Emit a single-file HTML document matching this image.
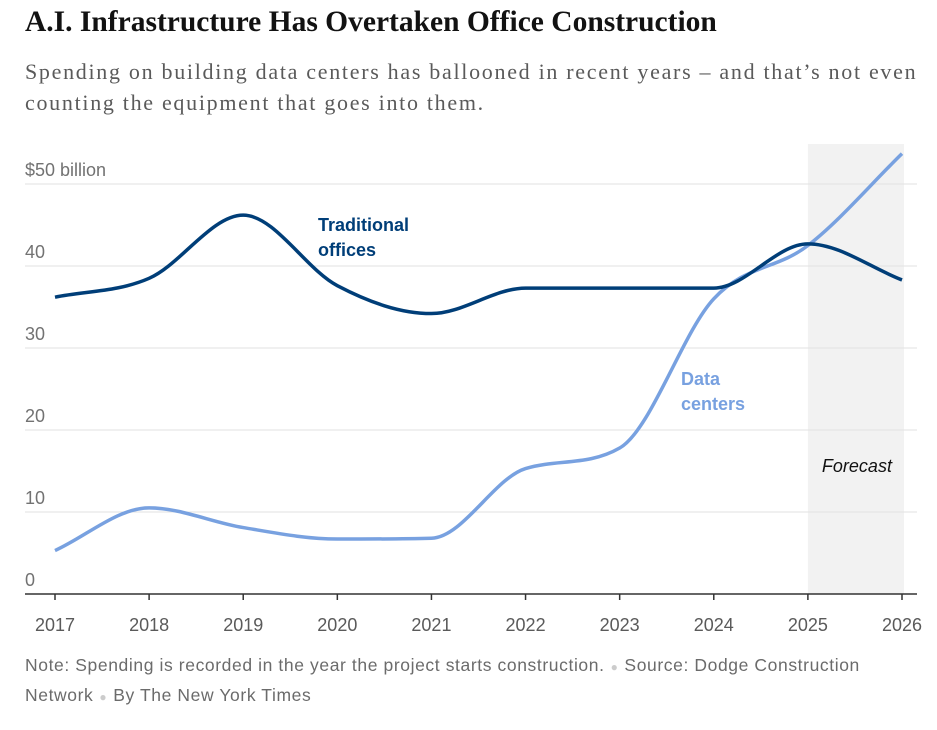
<!DOCTYPE html>
<html><head><meta charset="utf-8">
<style>
body{margin:0;background:#fff;width:937px;height:730px;overflow:hidden;font-family:"Liberation Sans",sans-serif;}
h1{position:absolute;left:25px;top:6px;margin:0;font-family:"Liberation Serif",serif;font-weight:bold;font-size:29.5px;color:#121212;}
.sub{position:absolute;left:25px;top:56px;width:912px;font-family:"Liberation Serif",serif;font-size:22px;letter-spacing:1.7px;line-height:31px;color:#5a5a5a}
.note{position:absolute;left:25px;top:651px;width:890px;font-size:17.5px;letter-spacing:0.6px;line-height:28px;color:#6b6b6b}
.dot{color:#ccc;font-size:12px;padding:0 6px}
svg{position:absolute;left:0;top:0}
</style></head><body>
<h1>A.I. Infrastructure Has Overtaken Office Construction</h1>
<div class="sub">Spending on building data centers has ballooned in recent years – and that’s not even counting the equipment that goes into them.</div>
<svg id="chart" width="937" height="730"></svg>
<div class="note">Note: Spending is recorded in the year the project starts construction.<span class="dot">●</span>Source: Dodge Construction Network<span class="dot">●</span>By The New York Times</div>
<script>
const years=[2017,2018,2019,2020,2021,2022,2023,2024,2025,2026];
const offices=[36.2,38.5,46.2,37.6,34.2,37.3,37.3,37.3,42.7,38.3];
const dataCenters=[5.3,10.5,8.1,6.7,6.8,15.3,17.8,36,42.5,53.7];
const yTicks=[0,10,20,30,40,50];
const yTickLabels=["0","10","20","30","40","$50 billion"];
const forecastStart=2025, forecastEnd=2026;

const NS="http://www.w3.org/2000/svg";
const svg=document.getElementById('chart');
const x=v=>55+(v-2017)*(902-55)/9;
const y=v=>594-v*8.2;
function mk(tag,attrs,parent){const e=document.createElementNS(NS,tag);for(const k in attrs)e.setAttribute(k,attrs[k]);(parent||svg).appendChild(e);return e;}

const fr=mk('rect',{x:x(forecastStart),y:144,width:x(forecastEnd)-x(forecastStart)+2,height:594-144,fill:'#f2f2f2'});


const ft=mk('text',{x:(x(forecastStart)+x(forecastEnd))/2+2,y:472,'text-anchor':'middle','font-size':18,'font-style':'italic',fill:'#121212'});
ft.textContent='Forecast';



yTicks.forEach((t,i)=>{
  if(t>0){const g=mk('line',{x1:25,x2:917,y1:y(t),y2:y(t),stroke:'#e2e2e2','stroke-width':1});
  
  }
  const l=mk('text',{x:25,y:y(t)-8,'font-size':18,fill:'#727272'});
  l.textContent=yTickLabels[i];
  
  
});
const ax=mk('line',{x1:25,x2:917,y1:594,y2:594,stroke:'#333','stroke-width':1.5});


years.forEach(yr=>{
  const tk=mk('line',{x1:x(yr),x2:x(yr),y1:594,y2:600,stroke:'#333','stroke-width':1.5});
  
  
  const t=mk('text',{x:x(yr),y:631,'text-anchor':'middle','font-size':18,fill:'#5a5a5a'});
  t.textContent=yr;
  
  
});

function monoPath(xs,ys){
  const n=xs.length,d=[],m=[];
  for(let i=0;i<n-1;i++)d.push((ys[i+1]-ys[i])/(xs[i+1]-xs[i]));
  m[0]=d[0];m[n-1]=d[n-2];
  for(let i=1;i<n-1;i++){m[i]=(d[i-1]*d[i]<=0)?0:(d[i-1]+d[i])/2;}
  for(let i=0;i<n-1;i++){if(d[i]===0){m[i]=0;m[i+1]=0;continue;}
    const a=m[i]/d[i],b=m[i+1]/d[i],s=a*a+b*b;if(s>9){const t=3/Math.sqrt(s);m[i]=t*a*d[i];m[i+1]=t*b*d[i];}}
  let p='M'+xs[0]+','+ys[0];
  for(let i=0;i<n-1;i++){const h=(xs[i+1]-xs[i])/3;
    p+=' C'+(xs[i]+h)+','+(ys[i]+m[i]*h)+' '+(xs[i+1]-h)+','+(ys[i+1]-m[i+1]*h)+' '+xs[i+1]+','+ys[i+1];}
  return p;
}
const xs=years.map(x);
const dc=mk('path',{d:monoPath(xs,dataCenters.map(y)),fill:'none',stroke:'#78a1e0','stroke-width':3.5});


const of=mk('path',{d:monoPath(xs,offices.map(y)),fill:'none',stroke:'#003e78','stroke-width':3.5});



function lbl(lines,lx,ly,col,name){const t=mk('text',{x:lx,y:ly,'font-size':18,'font-weight':'bold',fill:col});
  lines.forEach((s,i)=>{const ts=mk('tspan',{x:lx,dy:i?25:0},t);ts.textContent=s;});
  
  }
lbl(['Traditional','offices'],318,231,'#003e78','offices-label');
lbl(['Data','centers'],681,385,'#78a1e0','data-centers-label');
</script>
</body></html>
